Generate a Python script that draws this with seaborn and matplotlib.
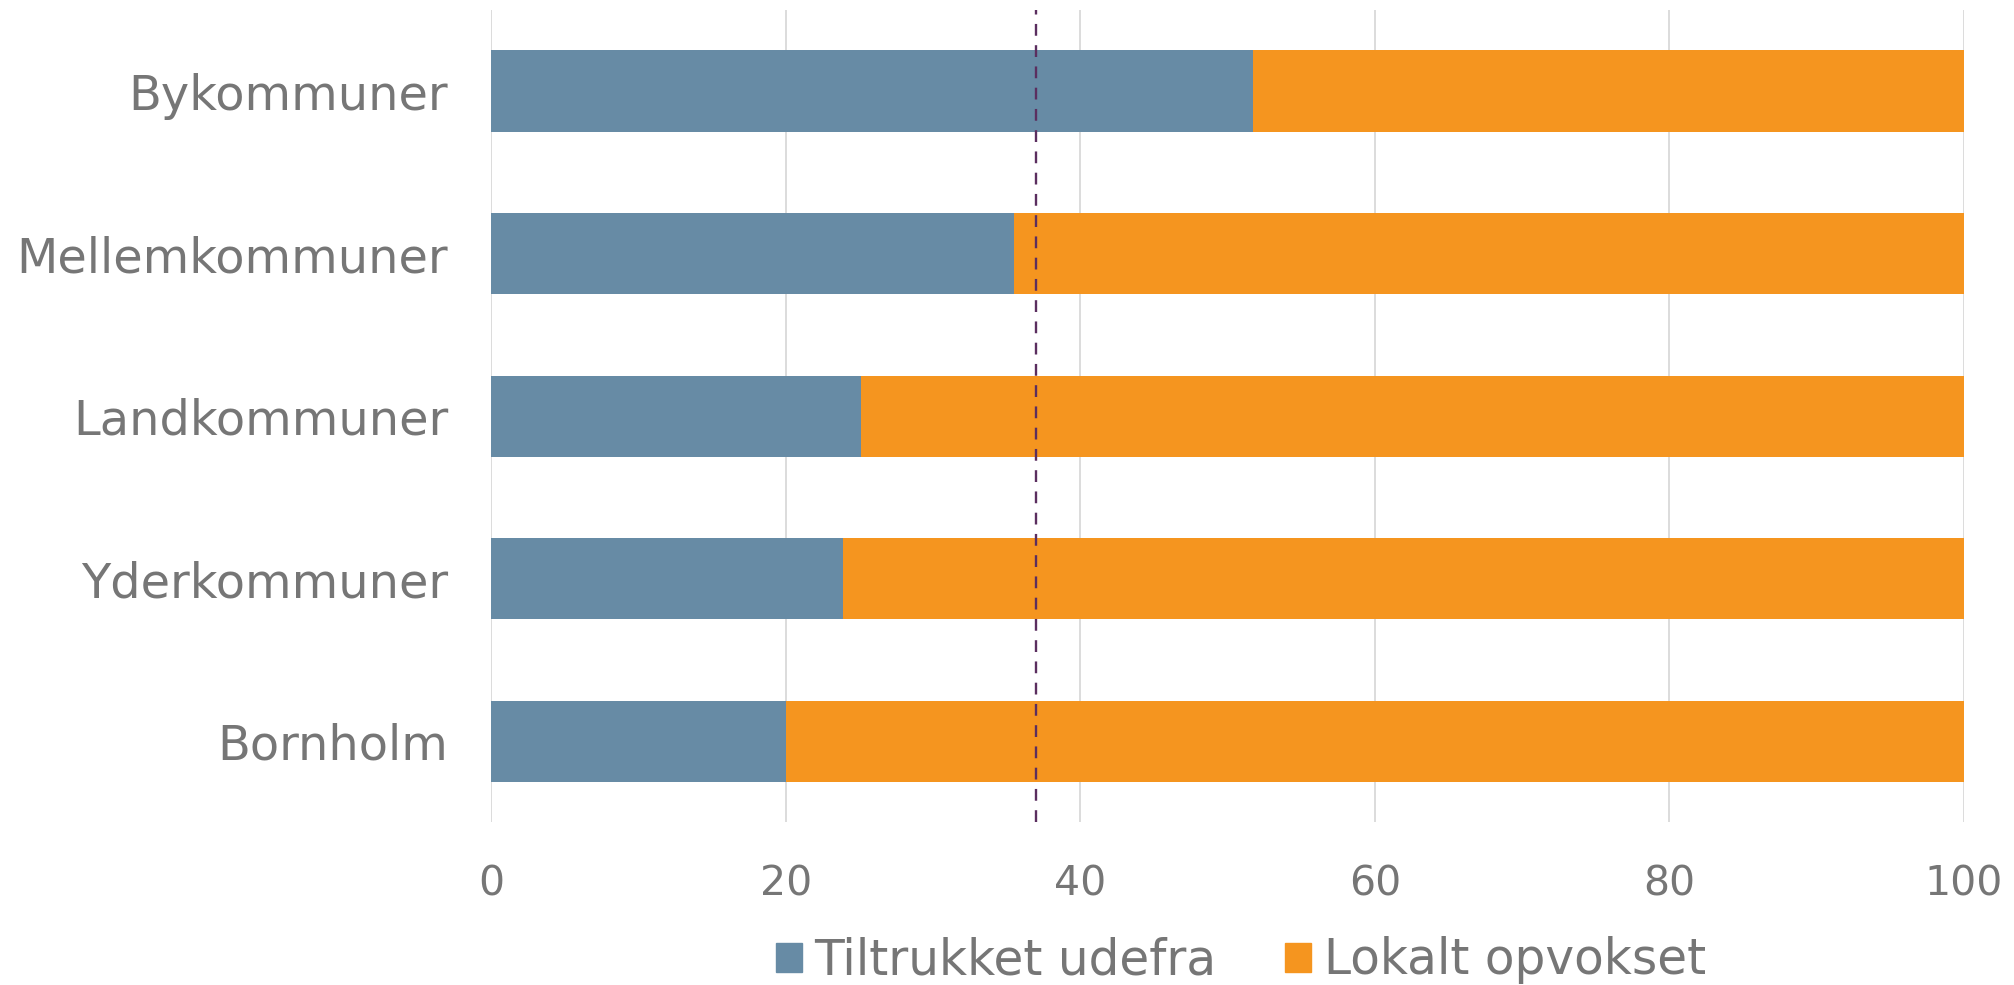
import matplotlib
matplotlib.use("Agg")
import matplotlib.pyplot as plt
import seaborn as sns
import pandas as pd
from matplotlib.patches import Patch

# data
kommuner = ['Bykommuner', 'Mellemkommuner', 'Landkommuner', 'Yderkommuner', 'Bornholm']
tiltrukket = [51.7, 35.5, 25.1, 23.9, 20.0]
lokalt = [100 - v for v in tiltrukket]
gennemsnit = 37.0
x_ticks = [0, 20, 40, 60, 80, 100]

BLUE = '#678BA5'
ORANGE = '#F5951F'
TEXT = '#767676'

df = pd.DataFrame({'kommune': kommuner, 'tiltrukket': tiltrukket,
                   'total': [a + b for a, b in zip(tiltrukket, lokalt)]})

sns.set_style('white')
plt.rcParams['font.family'] = ['DejaVu Sans']

fig = plt.figure(figsize=(20.14, 9.85), dpi=100)
ax = fig.add_axes([0.244, 0.165, 0.731, 0.825])

# orange = full bar, blue drawn on top
sns.barplot(data=df, y='kommune', x='total', color=ORANGE, width=0.5,
            saturation=1, orient='h', ax=ax, zorder=2, linewidth=0)
sns.barplot(data=df, y='kommune', x='tiltrukket', color=BLUE, width=0.5,
            saturation=1, orient='h', ax=ax, zorder=3, linewidth=0)

ax.axvline(gennemsnit, color='#5B2E5F', lw=1.7, ls=(0, (5, 4)), zorder=4)

ax.set_xlim(0, 100)
ax.set_ylim(4.5, -0.5)
ax.set_xticks(x_ticks)
ax.xaxis.grid(True, color='#D9D9D9', lw=1.3, zorder=0)
ax.set_axisbelow(True)
for s in ax.spines.values():
    s.set_visible(False)
ax.tick_params(axis='both', length=0, colors=TEXT)
ax.tick_params(axis='y', labelsize=34.5, pad=31)
ax.tick_params(axis='x', labelsize=29.5, pad=30)
ax.set_xlabel('')
ax.set_ylabel('')

handles = [Patch(color=BLUE, label='Tiltrukket udefra'),
           Patch(color=ORANGE, label='Lokalt opvokset')]
fig.legend(handles=handles, loc='center', bbox_to_anchor=(0.616, 0.025),
           ncol=2, frameon=False, fontsize=35, labelcolor=TEXT,
           handlelength=0.55, handleheight=0.55, handletextpad=0.25,
           columnspacing=1.4)

fig.savefig('out.png', dpi=100)
